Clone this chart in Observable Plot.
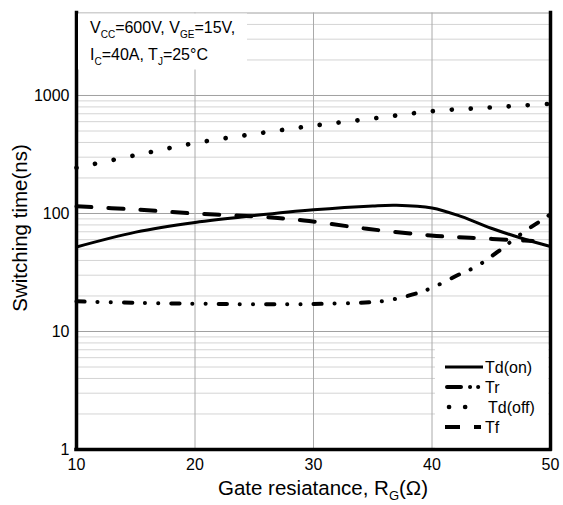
<!DOCTYPE html>
<html>
<head>
<meta charset="utf-8">
<script src="https://cdn.jsdelivr.net/npm/d3@7"></script>
<script src="https://cdn.jsdelivr.net/npm/@observablehq/plot@0.6"></script>
<style>
  html, body { margin: 0; padding: 0; background: #fff; }
  svg { display: block; }
</style>
</head>
<body>
<div id="chart"></div>
<script>
// ---- data ----
const rgOn  = [10, 15, 20, 25, 30, 35, 37, 40, 42.5, 45, 47.5, 50];
const tdOn  = [52, 69.5, 84, 96, 107.5, 116, 117.5, 111.5, 94, 75, 62, 52.5];

const rgR   = [10, 15, 20, 25, 30, 34.8, 36.2, 38.75, 40.1, 42.1, 43.8, 45.5, 47.5, 49.7, 50];
const tr    = [18, 17.5, 17.2, 17.0, 17.1, 17.7, 18.3, 21.1, 23.7, 29.8, 35.8, 47, 67, 94, 99];

const rgOff = [10, 15, 20, 25, 30, 35, 40, 45, 50];
const tdOff = [244, 312, 395, 472, 555, 638, 736, 792, 850];

const rgF   = [10, 15, 20, 25, 29.2, 34.5, 39.9, 43.2, 47.7, 48.5];
const tf    = [115, 108, 100, 94.5, 87.3, 74.2, 65.1, 62.3, 59, 58.5];

const xTicks = [10, 20, 30, 40, 50];
const yTicks = [1, 10, 100, 1000];
const xGrid = [20, 30, 40];
const yMajor = [10, 100, 1000, 5000];
const yMinor = [2,3,4,5,6,7,8,9, 20,30,40,50,60,70,80,90, 200,300,400,500,600,700,800,900, 2000,3000,4000];

const seriesNames = ["Td(on)", "Tr", "Td(off)", "Tf"];

const FONT = "'Liberation Sans', Arial, Helvetica, sans-serif";

const plot = Plot.plot({
  width: 563,
  height: 505,
  marginLeft: 76,
  marginRight: 13,
  marginTop: 12.5,
  marginBottom: 56,
  x: {domain: [10, 50]},
  y: {type: "log", domain: [1, 5000]},
  style: {fontFamily: FONT, fontSize: "16px", color: "#000", background: "#fff"},
  marks: [
    Plot.ruleY(yMinor, {stroke: "#d4d4d4", strokeWidth: 1}),
    Plot.ruleY(yMajor, {stroke: "#a0a0a0", strokeWidth: 1}),
    Plot.ruleX(xGrid, {stroke: "#aaaaaa", strokeWidth: 1}),
    Plot.line(rgOff, {x: rgOff, y: tdOff, curve: "catmull-rom", stroke: "#000", strokeWidth: 4.6,
      strokeLinecap: "round", strokeDasharray: "0.1,18.9"}),
    Plot.line(rgOn, {x: rgOn, y: tdOn, curve: "catmull-rom", stroke: "#000", strokeWidth: 3}),
    Plot.line(rgF, {x: rgF, y: tf, curve: "catmull-rom", stroke: "#000", strokeWidth: 4,
      strokeDasharray: "15,17"}),
    Plot.line(rgR, {x: rgR, y: tr, curve: "catmull-rom", stroke: "#000", strokeWidth: 4,
      strokeLinecap: "round", strokeDasharray: "8.3,12.7,0.1,13.2,0.1,13"}),
    Plot.ruleX([10, 50], {stroke: "#000", strokeWidth: 3.5, strokeLinecap: "square"}),
    Plot.ruleY([1], {stroke: "#000", strokeWidth: 3.5, strokeLinecap: "square"}),
    Plot.axisX({ticks: xTicks, tickSize: 0, tickPadding: 9, label: null, fontSize: 16, tickFormat: d => String(d)}),
    Plot.axisY({ticks: yTicks, tickSize: 0, tickPadding: 7, label: null, fontSize: 16, tickFormat: d => String(d)})
  ]
});

document.getElementById("chart").appendChild(plot);

const svg = d3.select(plot);
const ns = svg.append("g").attr("font-family", FONT).attr("fill", "#000").attr("text-anchor", "start");

// annotation box (top-left)
ns.append("rect").attr("x", 78).attr("y", 13.5).attr("width", 169).attr("height", 56).attr("fill", "#fff");
const t1 = ns.append("text").attr("x", 90).attr("y", 33.3).attr("font-size", 16).attr("text-anchor", "start");
t1.append("tspan").text("V");
t1.append("tspan").attr("font-size", 10).attr("dy", 5).text("CC");
t1.append("tspan").attr("dy", -5).text("=600V, V");
t1.append("tspan").attr("font-size", 10).attr("dy", 5).text("GE");
t1.append("tspan").attr("dy", -5).text("=15V,");
const t2 = ns.append("text").attr("x", 90).attr("y", 60).attr("font-size", 16).attr("text-anchor", "start");
t2.append("tspan").text("I");
t2.append("tspan").attr("font-size", 10).attr("dy", 5).text("C");
t2.append("tspan").attr("dy", -5).text("=40A, T");
t2.append("tspan").attr("font-size", 10).attr("dy", 5).text("J");
t2.append("tspan").attr("dy", -5).text("=25°C");

// legend box (bottom-right)
ns.append("rect").attr("x", 435).attr("y", 345).attr("width", 113.2).attr("height", 102.2).attr("fill", "#fff");
const legendStyles = [
  {dash: null, w: 3, cap: "butt", x1: 445, x2: 483},
  {dash: "14,9,0.1,8,0.1,60", w: 4, cap: "round", x1: 447, x2: 481},
  {dash: "0.1,16,0.1,60", w: 4.6, cap: "round", x1: 449, x2: 470},
  {dash: "15,14,7,60", w: 4, cap: "butt", x1: 445, x2: 483}
];
seriesNames.forEach((name, i) => {
  const y = 367 + i * 20;
  const s = legendStyles[i];
  const ln = ns.append("line").attr("x1", s.x1).attr("x2", s.x2).attr("y1", y).attr("y2", y)
    .attr("stroke", "#000").attr("stroke-width", s.w).attr("stroke-linecap", s.cap);
  if (s.dash) ln.attr("stroke-dasharray", s.dash);
  ns.append("text").attr("x", name === "Td(off)" ? 488 : 485).attr("y", y).attr("dy", "0.36em")
    .attr("font-size", 16).attr("text-anchor", "start").text(name);
});

// axis titles
const xl = ns.append("text").attr("x", 323).attr("y", 495).attr("text-anchor", "middle").attr("font-size", 20.5);
xl.append("tspan").text("Gate resiatance, R");
xl.append("tspan").attr("font-size", 13).attr("dy", 5).text("G");
xl.append("tspan").attr("dy", -5).text("(Ω)");

ns.append("text").attr("transform", "translate(26.5,228) rotate(-90)").attr("text-anchor", "middle")
  .attr("font-size", 20.5).text("Switching time(ns)");
</script>
</body>
</html>
